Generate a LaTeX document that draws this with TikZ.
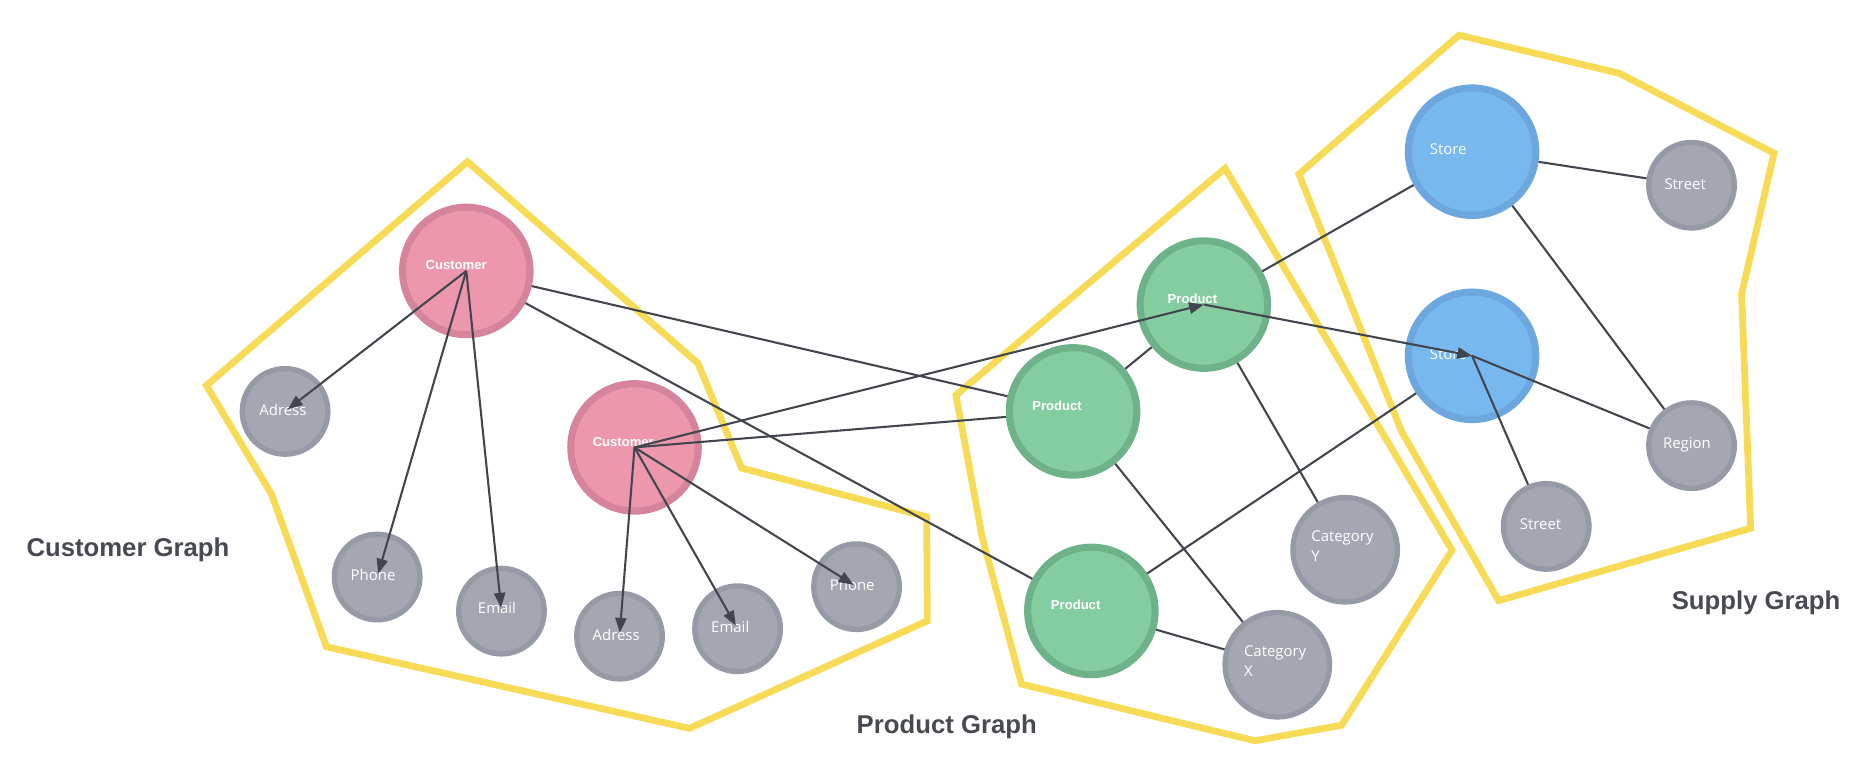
\documentclass[tikz,border=0pt]{standalone}
\usepackage{fontspec}
\setmainfont{Liberation Sans}
\newfontfamily\humfont{Open Sans}
\usetikzlibrary{arrows.meta}

\definecolor{pinkF}{HTML}{EC97AC}
\definecolor{pinkR}{HTML}{D5849C}
\definecolor{greenF}{HTML}{84CDA0}
\definecolor{greenR}{HTML}{6DB289}
\definecolor{blueF}{HTML}{77B8EE}
\definecolor{blueR}{HTML}{6CA8DD}
\definecolor{grayF}{HTML}{A4A7B2}
\definecolor{grayR}{HTML}{9699A6}
\definecolor{hull}{HTML}{F7DB57}
\definecolor{edgeC}{HTML}{41454D}
\definecolor{titleC}{HTML}{474A51}

\begin{document}
\begin{tikzpicture}[x=0.02cm,y=-0.02cm,
  bignode/.style={circle, inner sep=0pt, minimum size=2.16cm, line width=0.12cm},
  smallnode/.style={circle, inner sep=0pt, minimum size=1.45cm, line width=0.09cm},
  catnode/.style={circle, inner sep=0pt, minimum size=1.77cm, line width=0.09cm},
  cust/.style={bignode, fill=pinkF, draw=pinkR},
  prod/.style={bignode, fill=greenF, draw=greenR},
  store/.style={bignode, fill=blueF, draw=blueR},
  attr/.style={smallnode, fill=grayF, draw=grayR},
  cat/.style={catnode, fill=grayF, draw=grayR},
  boldlbl/.style={text=white, font=\bfseries\fontsize{6.3}{7}\selectfont, inner sep=0pt},
  lbl/.style={text=white, font=\humfont\fontsize{7.2}{8}\selectfont, inner sep=0pt},
  catlbl/.style={text=white, font=\humfont\fontsize{7.2}{9.5}\selectfont, inner sep=0pt, align=left, anchor=north west},
  hullline/.style={draw=hull, line width=0.115cm, line join=miter},
  link/.style={draw=edgeC, line width=0.035cm},
  arr/.style={link, -{Triangle[length=0.25cm,width=0.19cm]}, shorten >=0.06cm},
  arrc/.style={link, -{Triangle[length=0.25cm,width=0.19cm]}},
  title/.style={text=titleC, font=\bfseries\fontsize{12.4}{14}\selectfont, inner sep=0pt}
]
\fill[white] (0,0) rectangle (1568,651.4);
\useasboundingbox (0,0) rectangle (1568,651.4);

% hulls
\draw[hullline] (174.8,326.5) -- (396,137) -- (591.2,307.7) -- (628.2,396.5) -- (785,437.8) -- (785.5,526) -- (584,617) -- (276.5,547.9) -- (230,418.6) -- cycle;
\draw[hullline] (809.8,334.7) -- (1037.8,142.6) -- (1230,466) -- (1136.5,614.3) -- (1063,627.5) -- (865.3,579.5) -- (832,455) -- cycle;
\draw[hullline] (1100.3,147.5) -- (1236,29.8) -- (1371.7,62.1) -- (1502.8,129.8) -- (1475.3,249.2) -- (1483,447.5) -- (1269.5,508.8) -- (1187.2,365.3) -- cycle;

% titles
\node[title] (tcust) at (108.4,465.4) {Customer Graph};
\node[title] (tprod) at (802,615.7) {Product Graph};
\node[title] (tsupp) at (1487.6,510.5) {Supply Graph};

% customer graph nodes
\node[cust] (c1) at (395,229.5) {};
\node[boldlbl] (c1t) at (386.4,224.4) {Customer};
\node[cust] (c2) at (537.5,379) {};
\node[boldlbl] (c2t) at (528,374) {Customer};
\node[attr] (adr1) at (241.5,348.5) {};
\node[lbl] (adr1t) at (239.7,347) {Adress};
\node[attr] (ph1) at (319.5,488.8) {};
\node[lbl] (ph1t) at (316,487) {Phone};
\node[attr] (em1) at (424.8,517.7) {};
\node[lbl] (em1t) at (421,515) {Email};
\node[attr] (adr2) at (524.8,538.9) {};
\node[lbl] (adr2t) at (522,537.5) {Adress};
\node[attr] (em2) at (624.8,532.6) {};
\node[lbl] (em2t) at (618.6,531) {Email};
\node[attr] (ph2) at (725.6,497) {};
\node[lbl] (ph2t) at (721.9,495.6) {Phone};

% product graph nodes
\node[prod] (pt) at (1019.8,258) {};
\node[boldlbl] (ptt) at (1010.1,253.3) {Product};
\node[prod] (pm) at (909,348.5) {};
\node[boldlbl] (pmt) at (895.4,343.7) {Product};
\node[prod] (pb) at (924.5,517.5) {};
\node[boldlbl] (pbt) at (911.2,512.6) {Product};
\node[cat] (caty) at (1139.5,465.7) {};
\node[catlbl] (catyt) at (1110.5,449.5) {Category\\Y};
\node[cat] (catx) at (1082,563.1) {};
\node[catlbl] (catxt) at (1053.5,547) {Category\\X};

% supply graph nodes
\node[store] (s1) at (1247,128.5) {};
\node[lbl] (s1t) at (1226.8,126.6) {Store};
\node[store] (s2) at (1247,301.4) {};
\node[lbl] (s2t) at (1226.8,300) {Store};
\node[attr] (st1) at (1432.9,156.9) {};
\node[lbl] (st1t) at (1427.5,155.6) {Street};
\node[attr] (reg) at (1432.9,377.5) {};
\node[lbl] (regt) at (1429,376.6) {Region};
\node[attr] (st2) at (1309.8,445.9) {};
\node[lbl] (st2t) at (1305,444.3) {Street};

% connectors
\draw[arr] (c1.center) -- (adr1.center);
\draw[arr] (c1.center) -- (ph1.center);
\draw[arr] (c1.center) -- (em1.center);
\draw[link] (c1) -- (pm);
\draw[link] (c1) -- (pb);
\draw[arr] (c2.center) -- (adr2.center);
\draw[arr] (c2.center) -- (em2.center);
\draw[arr] (c2.center) -- (ph2.center);
\draw[arrc] (c2.center) -- (pt.center);
\draw[link] (c2.center) -- (pm);
\draw[link] (pm) -- (pt);
\draw[link] (pt) -- (s1);
\draw[link] (pt) -- (caty);
\draw[link] (pm) -- (catx);
\draw[link] (pb) -- (catx);
\draw[link] (pb) -- (s2);
\draw[arrc] (pt.center) -- (s2.center);
\draw[link] (s1) -- (st1);
\draw[link] (s1) -- (reg);
\draw[link] (s2.center) -- (reg);
\draw[link] (s2.center) -- (st2);
\end{tikzpicture}
\end{document}
